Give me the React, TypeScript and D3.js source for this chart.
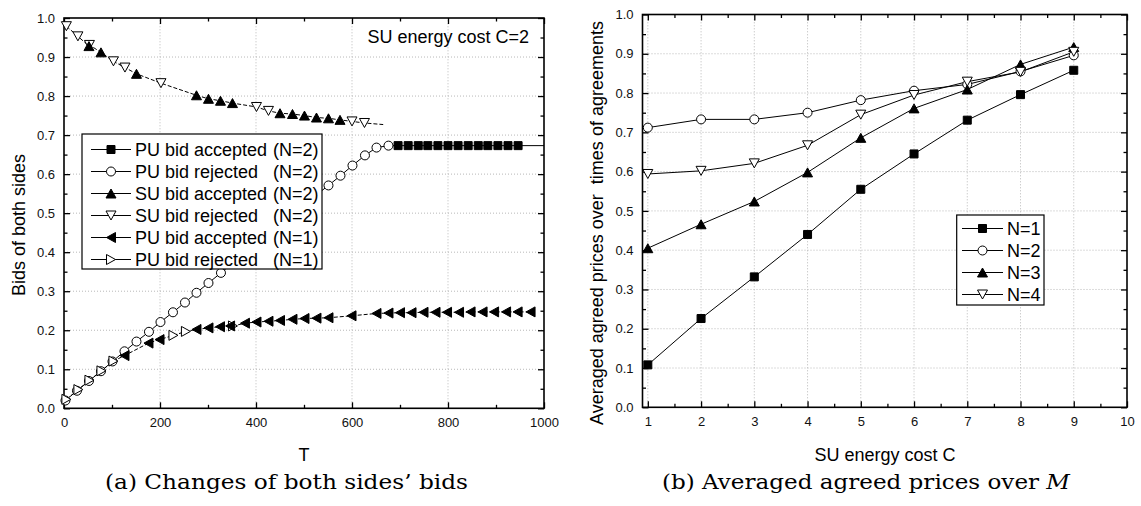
import * as d3 from "d3";
import React from "react";

// ---- (a) changes of both sides' bids, C = 2 ----
const puAccN2T = [696, 717, 738, 758, 779, 800, 821, 842, 863, 883, 904, 925, 946];
const puAccN2 = [0.673, 0.673, 0.673, 0.673, 0.673, 0.673, 0.673, 0.673, 0.673, 0.673, 0.673, 0.673, 0.673];
const puRejN2T = [3, 27, 52, 77, 101, 126, 151, 177, 201, 227, 252, 276, 301, 327, 351, 376, 401, 426, 451, 476, 501, 526, 551, 576, 601, 627, 651, 676];
const puRejN2 = [0.020, 0.045, 0.070, 0.095, 0.120, 0.146, 0.171, 0.196, 0.221, 0.246, 0.271, 0.296, 0.321, 0.347, 0.372, 0.397, 0.422, 0.447, 0.472, 0.497, 0.522, 0.547, 0.571, 0.596, 0.622, 0.648, 0.668, 0.673];
const puN2EndT = 1000;
const puN2End = 0.673;

const suAccN2T = [52, 77, 151, 276, 301, 326, 351, 450, 476, 501, 526, 551, 575];
const suAccN2 = [0.928, 0.912, 0.857, 0.802, 0.793, 0.788, 0.782, 0.756, 0.754, 0.750, 0.745, 0.743, 0.739];
const suRejN2T = [5, 29, 53, 103, 127, 202, 401, 426, 600, 626];
const suRejN2 = [0.979, 0.953, 0.931, 0.889, 0.873, 0.833, 0.772, 0.762, 0.735, 0.731];
const suEndT = 665;
const suEnd = 0.727;

const puAccN1T = [126, 176, 199, 276, 301, 325, 346, 377, 401, 426, 450, 476, 501, 526, 551, 599, 651, 676, 700, 724, 749, 774, 798, 823, 847, 872, 896, 921, 945, 972];
const puAccN1 = [0.135, 0.167, 0.176, 0.202, 0.206, 0.209, 0.211, 0.218, 0.221, 0.223, 0.225, 0.228, 0.230, 0.231, 0.232, 0.237, 0.243, 0.244, 0.245, 0.245, 0.246, 0.246, 0.246, 0.246, 0.247, 0.247, 0.247, 0.247, 0.247, 0.247];
const puRejN1T = [5, 30, 53, 78, 103, 228, 254, 352];
const puRejN1 = [0.023, 0.048, 0.072, 0.096, 0.121, 0.187, 0.197, 0.211];

const legendA = [
  ["PU bid accepted", "(N=2)", "square"],
  ["PU bid rejected", "(N=2)", "circle"],
  ["SU bid accepted", "(N=2)", "up"],
  ["SU bid rejected", "(N=2)", "down"],
  ["PU bid accepted", "(N=1)", "left"],
  ["PU bid rejected", "(N=1)", "right"],
];

// ---- (b) averaged agreed prices ----
const costC = [1, 2, 3, 4, 5, 6, 7, 8, 9];
const priceN1 = [0.108, 0.226, 0.332, 0.440, 0.555, 0.645, 0.731, 0.796, 0.858];
const priceN2 = [0.712, 0.733, 0.733, 0.750, 0.782, 0.806, 0.822, 0.855, 0.896];
const priceN3 = [0.405, 0.466, 0.524, 0.598, 0.686, 0.761, 0.809, 0.873, 0.917];
const priceN4 = [0.594, 0.602, 0.621, 0.667, 0.745, 0.795, 0.829, 0.854, 0.905];
const legendB = [["N=1", "square"], ["N=2", "circle"], ["N=3", "up"], ["N=4", "down"]];

const FONT = "Liberation Sans, Arial, sans-serif";

function markerPath(shape, x, y) {
  const w = 10, h = 9;
  switch (shape) {
    case "square": return `M${x - 4},${y - 4}h8v8h-8Z`;
    case "up": return `M${x},${y - h / 2}L${x + w / 2},${y + h / 2}L${x - w / 2},${y + h / 2}Z`;
    case "down": return `M${x},${y + h / 2}L${x + w / 2},${y - h / 2}L${x - w / 2},${y - h / 2}Z`;
    case "left": return `M${x - h / 2},${y}L${x + h / 2},${y - w / 2}L${x + h / 2},${y + w / 2}Z`;
    case "right": return `M${x + h / 2},${y}L${x - h / 2},${y - w / 2}L${x - h / 2},${y + w / 2}Z`;
    default: return `M${x + 4.5},${y}A4.5,4.5 0 1,1 ${x - 4.5},${y}A4.5,4.5 0 1,1 ${x + 4.5},${y}Z`;
  }
}

function filled(shape) {
  return shape === "square" || shape === "up" || shape === "left";
}

function drawMarkers(g, xs, ys, x, y, shape) {
  g.append("g")
    .selectAll("path")
    .data(xs.map((v, i) => [v, ys[i]]))
    .enter()
    .append("path")
    .attr("d", d => markerPath(shape, x(d[0]), y(d[1])))
    .attr("fill", filled(shape) ? "black" : "white")
    .attr("stroke", "black")
    .attr("stroke-width", 1);
}

function drawFrame(svg, x, y, xMajor, xMinor, yMajor, yMinor, gridX) {
  const [x0, x1] = x.range();
  const [y0, y1] = y.range();
  const g = svg.append("g");

  // dotted grid
  g.selectAll(".gx").data(gridX).enter().append("line")
    .attr("x1", d => x(d)).attr("x2", d => x(d)).attr("y1", y0).attr("y2", y1)
    .attr("stroke", "#b8b8b8").attr("stroke-dasharray", "1,2");
  g.selectAll(".gy").data(yMajor.filter(v => v > 0 && v < 1)).enter().append("line")
    .attr("x1", x0).attr("x2", x1).attr("y1", d => y(d)).attr("y2", d => y(d))
    .attr("stroke", "#b8b8b8").attr("stroke-dasharray", "1,2");

  const put = (axis, tx, ty, labels) => {
    const a = g.append("g").attr("transform", `translate(${tx},${ty})`).call(axis);
    a.select(".domain").remove();
    a.selectAll("line").attr("stroke-width", 1.3);
    a.selectAll("text").style("font-family", FONT).style("font-size", "13px").attr("fill", "#111");
    if (!labels) a.selectAll("text").remove();
  };
  put(d3.axisBottom(x).tickValues(xMajor).tickSize(-6).tickPadding(9).tickFormat(d3.format("d")), 0, y0, true);
  put(d3.axisBottom(x).tickValues(xMinor).tickSize(-3.5), 0, y0, false);
  put(d3.axisTop(x).tickValues(xMajor).tickSize(-6), 0, y1, false);
  put(d3.axisTop(x).tickValues(xMinor).tickSize(-3.5), 0, y1, false);
  put(d3.axisLeft(y).tickValues(yMajor).tickSize(-6).tickPadding(9).tickFormat(d3.format(".1f")), x0, 0, true);
  put(d3.axisLeft(y).tickValues(yMinor).tickSize(-3.5), x0, 0, false);
  put(d3.axisRight(y).tickValues(yMajor).tickSize(-6), x1, 0, false);
  put(d3.axisRight(y).tickValues(yMinor).tickSize(-3.5), x1, 0, false);

  svg.append("rect")
    .attr("x", x0).attr("y", y1).attr("width", x1 - x0).attr("height", y0 - y1)
    .attr("fill", "none").attr("stroke", "black").attr("stroke-width", 1.6);
}

function drawLegend(svg, rows, box, lineX, textX, rowY, extraX) {
  const g = svg.append("g");
  g.append("rect")
    .attr("x", box[0]).attr("y", box[1]).attr("width", box[2]).attr("height", box[3])
    .attr("fill", "white").attr("stroke", "black").attr("stroke-width", 1.2);
  rows.forEach((r, i) => {
    const yy = rowY + i * 22;
    const shape = r[r.length - 1];
    g.append("line").attr("x1", lineX[0]).attr("x2", lineX[1]).attr("y1", yy).attr("y2", yy)
      .attr("stroke", "black").attr("stroke-width", 1);
    g.append("path").attr("d", markerPath(shape, (lineX[0] + lineX[1]) / 2, yy))
      .attr("fill", filled(shape) ? "black" : "white").attr("stroke", "black");
    g.append("text").attr("x", textX).attr("y", yy).attr("dy", "0.36em")
      .style("font-family", FONT).style("font-size", "18px").text(r[0]);
    if (r.length === 3) {
      g.append("text").attr("x", extraX).attr("y", yy).attr("dy", "0.36em")
        .style("font-family", FONT).style("font-size", "18px").text(r[1]);
    }
  });
}

const App = () => {
  const ref = React.useRef(null);

  React.useEffect(() => {
    const svg = d3.select(ref.current);
    svg.selectAll("*").remove();

    // ===== panel (a) =====
    const xa = d3.scaleLinear().domain([0, 1000]).range([64, 544]);
    const ya = d3.scaleLinear().domain([0, 1]).range([408.3, 18]);
    const tenths = d3.range(0, 11).map(i => i / 10);
    const twentieths = d3.range(0, 10).map(i => i / 10 + 0.05);
    drawFrame(svg, xa, ya, [0, 200, 400, 600, 800, 1000], [100, 300, 500, 700, 900], tenths, twentieths, [200, 400, 600, 800]);

    const plotA = svg.append("g");
    const solid = d3.line().x(d => xa(d[0])).y(d => ya(d[1]));

    const puN2Pts = puRejN2T.map((t, i) => [t, puRejN2[i]])
      .concat(puAccN2T.map((t, i) => [t, puAccN2[i]]))
      .concat([[puN2EndT, puN2End]]);
    plotA.append("path").attr("d", solid(puN2Pts)).attr("fill", "none").attr("stroke", "black").attr("stroke-width", 1);

    const suPts = suAccN2T.map((t, i) => [t, suAccN2[i]])
      .concat(suRejN2T.map((t, i) => [t, suRejN2[i]]))
      .sort((a, b) => a[0] - b[0])
      .concat([[suEndT, suEnd]]);
    plotA.append("path").attr("d", solid(suPts)).attr("fill", "none").attr("stroke", "black")
      .attr("stroke-width", 1).attr("stroke-dasharray", "4,2");

    const n1Pts = puAccN1T.map((t, i) => [t, puAccN1[i]])
      .concat(puRejN1T.map((t, i) => [t, puRejN1[i]]))
      .sort((a, b) => a[0] - b[0]);
    plotA.append("path").attr("d", solid(n1Pts)).attr("fill", "none").attr("stroke", "black")
      .attr("stroke-width", 1).attr("stroke-dasharray", "4,2");

    drawMarkers(plotA, puRejN2T, puRejN2, xa, ya, "circle");
    drawMarkers(plotA, puAccN2T, puAccN2, xa, ya, "square");
    drawMarkers(plotA, suRejN2T, suRejN2, xa, ya, "down");
    drawMarkers(plotA, suAccN2T, suAccN2, xa, ya, "up");
    drawMarkers(plotA, puRejN1T, puRejN1, xa, ya, "right");
    drawMarkers(plotA, puAccN1T, puAccN1, xa, ya, "left");

    drawLegend(svg, legendA, [82, 134, 240, 135], [91, 131], 135, 149.5, 273);

    svg.append("text").attr("x", 529).attr("y", 43).attr("text-anchor", "end")
      .style("font-family", FONT).style("font-size", "18px").text("SU energy cost C=2");
    svg.append("text").attr("x", 304).attr("y", 461).attr("text-anchor", "middle")
      .style("font-family", FONT).style("font-size", "18px").text("T");
    svg.append("text").attr("transform", "translate(25,225) rotate(-90)").attr("text-anchor", "middle")
      .style("font-family", FONT).style("font-size", "18px").text("Bids of both sides");

    // ===== panel (b) =====
    const xb = d3.scaleLinear().domain([0.9, 10]).range([642.5, 1127]);
    const yb = d3.scaleLinear().domain([0, 1]).range([407.3, 14.5]);
    drawFrame(svg, xb, yb, d3.range(1, 11), d3.range(1, 10).map(v => v + 0.5), tenths, twentieths, d3.range(1, 10));

    const plotB = svg.append("g");
    const lineB = d3.line().x(d => xb(d[0])).y(d => yb(d[1]));
    const seriesB = [[priceN1, "square"], [priceN2, "circle"], [priceN3, "up"], [priceN4, "down"]];
    seriesB.forEach(([vals]) => {
      plotB.append("path").attr("d", lineB(costC.map((c, i) => [c, vals[i]])))
        .attr("fill", "none").attr("stroke", "black").attr("stroke-width", 1);
    });
    seriesB.forEach(([vals, shape]) => {
      drawMarkers(plotB, costC, vals, xb, yb, shape);
    });

    drawLegend(svg, legendB, [956.7, 215, 87.3, 90], [962, 1003], 1007, 228.5, 0);

    svg.append("text").attr("x", 885).attr("y", 461).attr("text-anchor", "middle")
      .style("font-family", FONT).style("font-size", "18px").text("SU energy cost C");
    svg.append("text").attr("transform", "translate(603,223) rotate(-90)").attr("text-anchor", "middle")
      .attr("textLength", 404).attr("lengthAdjust", "spacing")
      .style("font-family", FONT).style("font-size", "18px").style("white-space", "pre")
      .text("Averaged agreed prices over  times of agreements");

    // captions
    svg.append("text").attr("x", 105).attr("y", 489).attr("textLength", 363).attr("lengthAdjust", "spacingAndGlyphs")
      .style("font-family", "DejaVu Serif, serif").style("font-size", "21px")
      .text("(a) Changes of both sides\u2019 bids");
    const cb = svg.append("text").attr("x", 662).attr("y", 489).attr("textLength", 408).attr("lengthAdjust", "spacingAndGlyphs")
      .style("font-family", "DejaVu Serif, serif").style("font-size", "21px");
    cb.append("tspan").text("(b) Averaged agreed prices over ");
    cb.append("tspan").style("font-style", "italic").text("M");
  }, []);

  return (
    <svg
      ref={ref}
      width={1141}
      height={506}
      style={{ position: "absolute", left: 0, top: 0, background: "white" }}
    />
  );
};

export default App;
